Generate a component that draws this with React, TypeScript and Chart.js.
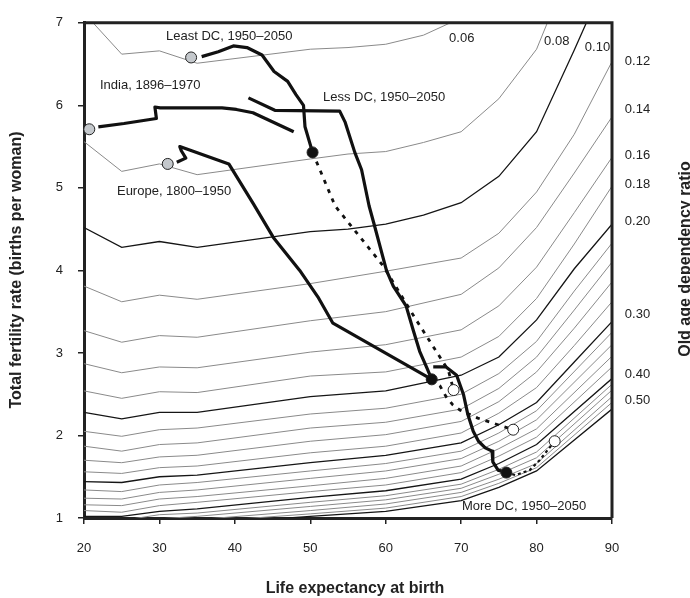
import React, { useEffect, useRef } from 'react';
import { Chart, registerables } from 'chart.js';

Chart.register(...registerables);

const FONT = '"Liberation Sans", Arial, Helvetica, sans-serif';
const n = null;

// Life expectancy values at which each old-age dependency ratio contour is tabulated
const knotAges = [20, 25, 30, 35, 50, 55, 60, 65, 70, 75, 80, 85, 90];

// Total fertility rate on each contour (null = not tabulated, line spans across)
const odr06 = [7.12, 6.62, 6.66, 6.51, 6.68, 6.70, 6.74, 6.85, 7.06, n, n, n, n];
const odr08 = [5.56, 5.20, 5.29, 5.16, 5.35, 5.41, 5.44, 5.55, 5.68, 6.08, 6.68, 7.8, n];
const odr10 = [4.52, 4.28, 4.35, 4.28, 4.47, 4.50, 4.56, 4.67, 4.82, 5.14, 5.68, 6.67, 7.7];
const odr12 = [3.81, 3.62, 3.70, 3.65, 3.84, n, 3.99, n, 4.15, 4.45, 4.95, 5.65, 6.53];
const odr14 = [3.27, 3.13, 3.21, 3.19, 3.39, n, 3.50, n, 3.71, 4.03, 4.52, 5.18, 5.86];
const odr16 = [2.87, 2.76, 2.83, 2.82, 3.01, n, 3.10, n, 3.28, 3.57, 4.04, 4.70, 5.37];
const odr18 = [2.54, 2.45, 2.53, 2.52, 2.72, n, 2.77, n, 2.95, 3.20, 3.66, 4.32, 5.02];
const odr20 = [2.28, 2.20, 2.28, 2.28, 2.47, n, 2.54, n, 2.73, 2.95, 3.40, 4.02, 4.56];
const odr22 = [2.05, 1.99, 2.07, 2.09, 2.26, n, 2.33, n, 2.50, 2.75, 3.14, 3.75, 4.33];
const odr24 = [1.87, 1.81, 1.89, 1.91, 2.09, n, 2.16, n, 2.32, 2.57, 2.95, 3.52, 4.10];
const odr26 = [1.70, 1.67, 1.74, 1.76, 1.93, n, 2.01, n, 2.17, 2.41, 2.77, 3.30, 3.86];
const odr28 = [1.56, 1.54, 1.61, 1.63, 1.79, n, 1.87, n, 2.03, 2.27, 2.58, 3.09, 3.62];
const odr30 = [1.44, 1.43, 1.50, 1.52, 1.67, n, 1.76, n, 1.91, 2.13, 2.40, 2.89, 3.38];
const odr32 = [1.34, 1.32, 1.40, 1.43, 1.57, n, 1.66, n, 1.81, 2.03, 2.30, n, 3.25];
const odr34 = [1.24, 1.23, 1.31, 1.34, 1.48, n, 1.57, n, 1.72, 1.93, 2.19, n, 3.10];
const odr36 = [1.16, 1.15, 1.23, 1.26, 1.39, n, 1.48, n, 1.63, 1.84, 2.08, n, 2.96];
const odr38 = [1.09, 1.07, 1.15, 1.19, 1.32, n, 1.40, n, 1.55, 1.75, 1.98, n, 2.83];
const odr40 = [1.02, 1.02, 1.08, 1.11, 1.25, n, 1.33, n, 1.47, 1.66, 1.89, n, 2.69];
const odr42 = [0.96, 0.97, 1.04, 1.06, 1.19, n, 1.27, n, 1.41, 1.59, 1.80, n, 2.62];
const odr44 = [0.92, 0.93, 0.99, 1.02, 1.14, n, 1.22, n, 1.36, 1.53, 1.73, n, 2.55];
const odr46 = [0.88, 0.89, 0.95, 0.98, 1.09, n, 1.17, n, 1.31, 1.47, 1.66, n, 2.47];
const odr48 = [0.85, 0.86, 0.92, 0.95, 1.05, n, 1.12, n, 1.26, 1.42, 1.61, n, 2.40];
const odr50 = [0.82, 0.83, 0.89, 0.92, 1.02, n, 1.08, n, 1.21, 1.37, 1.57, n, 2.32];

const contourLevels = [0.06, 0.08, 0.1, 0.12, 0.14, 0.16, 0.18, 0.2, 0.22, 0.24, 0.26, 0.28,
  0.3, 0.32, 0.34, 0.36, 0.38, 0.4, 0.42, 0.44, 0.46, 0.48, 0.5];
const contourTfr = [odr06, odr08, odr10, odr12, odr14, odr16, odr18, odr20, odr22, odr24, odr26,
  odr28, odr30, odr32, odr34, odr36, odr38, odr40, odr42, odr44, odr46, odr48, odr50];
const majorLevels = [0.1, 0.2, 0.3, 0.4, 0.5];

// Observed trajectories (life expectancy, TFR)
const leastDcAge = [35.6, 37.8, 39.8, 41.6, 43.6, 45.2, 47.0, 48.1, 49.1, 49.3, 50.3];
const leastDcTfr = [6.59, 6.65, 6.72, 6.70, 6.61, 6.41, 6.29, 6.13, 6.00, 5.74, 5.43];
const lessDcAge = [41.8, 45.3, 53.9, 54.6, 55.9, 56.8, 57.8, 58.4, 60.1, 61.0, 62.7, 63.7, 64.5, 65.4, 66.1];
const lessDcTfr = [6.09, 5.94, 5.93, 5.80, 5.43, 5.22, 4.78, 4.58, 4.00, 3.81, 3.57, 3.26, 3.02, 2.83, 2.68];
const moreDcAge = [66.3, 68.0, 69.4, 70.3, 70.9, 71.6, 72.3, 73.2, 74.1, 74.2, 74.9, 76.0];
const moreDcTfr = [2.83, 2.83, 2.73, 2.50, 2.25, 2.05, 1.93, 1.85, 1.81, 1.68, 1.58, 1.55];
const europeAge = [32.3, 33.5, 32.9, 32.7, 39.2, 42.5, 45.1, 48.6, 51.0, 53.0, 66.1];
const europeTfr = [5.31, 5.36, 5.45, 5.50, 5.29, 4.80, 4.40, 4.00, 3.68, 3.36, 2.68];
const indiaAge = [21.9, 25.3, 29.6, 29.4, 30.1, 38.3, 40.2, 42.4, 47.8];
const indiaTfr = [5.74, 5.78, 5.84, 5.98, 5.97, 5.97, 5.95, 5.91, 5.68];

// Projections 2000-2050
const leastProjAge = [50.3, 53.3, 59.7, 63.9, 68.3, 69.0];
const leastProjTfr = [5.43, 4.78, 4.05, 3.42, 2.79, 2.55];
const lessProjAge = [66.1, 67.2, 68.0, 68.9, 69.8, 72.2, 74.2, 76.9];
const lessProjTfr = [2.68, 2.60, 2.47, 2.37, 2.31, 2.21, 2.15, 2.07];
const moreProjAge = [76.0, 77.2, 79.1, 80.4, 82.4];
const moreProjTfr = [1.55, 1.52, 1.58, 1.70, 1.93];

// Markers: starting points, year 2000, year 2050
const startAge = [34.2, 20.7, 31.1];
const startTfr = [6.58, 5.71, 5.29];
const midAge = [50.3, 66.1, 76.0];
const midTfr = [5.43, 2.68, 1.55];
const endAge = [69.0, 76.9, 82.4];
const endTfr = [2.55, 2.07, 1.93];

// Text annotations
const seriesLabels = ['Least DC, 1950–2050', 'India, 1896–1970', 'Europe, 1800–1950', 'Less DC, 1950–2050', 'More DC, 1950–2050'];
const seriesLabelAge = [30.87, 22.12, 24.37, 51.69, 70.11];
const seriesLabelTfr = [6.83, 6.24, 4.96, 6.10, 1.14];
const topRatioLabels = ['0.06', '0.08', '0.10'];
const topRatioAge = [68.4, 81.0, 86.4];
const topRatioTfr = [6.81, 6.77, 6.70];
const sideRatioLabels = ['0.12', '0.14', '0.16', '0.18', '0.20', '0.30', '0.40', '0.50'];
const sideRatioTfr = [6.53, 5.95, 5.39, 5.04, 4.59, 3.47, 2.74, 2.42];
const sideLabelAge = 91.7;

const pts = (xs: number[], ys: (number | null)[]) => xs.map((x, i) => ({ x, y: ys[i] }));

const annotate = {
  id: 'annotate',
  afterDatasetsDraw(chart: any) {
    const { ctx, chartArea: a, scales } = chart;
    const sx = scales.x, sy = scales.y;
    ctx.save();
    // top and right frame
    ctx.strokeStyle = '#222';
    ctx.lineWidth = 3;
    ctx.beginPath();
    ctx.moveTo(a.left, a.top);
    ctx.lineTo(a.right, a.top);
    ctx.lineTo(a.right, a.bottom);
    ctx.stroke();

    ctx.fillStyle = '#222';
    ctx.font = `13px ${FONT}`;
    ctx.textAlign = 'left';
    ctx.textBaseline = 'middle';
    seriesLabels.forEach((t, i) => {
      ctx.fillText(t, sx.getPixelForValue(seriesLabelAge[i]), sy.getPixelForValue(seriesLabelTfr[i]));
    });
    topRatioLabels.forEach((t, i) => {
      ctx.fillText(t, sx.getPixelForValue(topRatioAge[i]), sy.getPixelForValue(topRatioTfr[i]));
    });
    sideRatioLabels.forEach((t, i) => {
      ctx.fillText(t, sx.getPixelForValue(sideLabelAge), sy.getPixelForValue(sideRatioTfr[i]));
    });

    // axis titles
    ctx.font = `bold 16px ${FONT}`;
    ctx.textAlign = 'center';
    ctx.textBaseline = 'alphabetic';
    ctx.fillText('Life expectancy at birth', 355, 593);
    ctx.save();
    ctx.translate(21, 270);
    ctx.rotate(-Math.PI / 2);
    ctx.fillText('Total fertility rate (births per woman)', 0, 0);
    ctx.restore();
    ctx.save();
    ctx.translate(690, 259);
    ctx.rotate(-Math.PI / 2);
    ctx.fillText('Old age dependency ratio', 0, 0);
    ctx.restore();
    ctx.restore();
  },
};

export default function App() {
  const ref = useRef<HTMLCanvasElement>(null);

  useEffect(() => {
    const canvas = ref.current;
    if (!canvas) return;
    const datasets: any[] = [];

    const marker = (xs: number[], ys: number[], fill: string) => ({
      data: pts(xs, ys),
      showLine: false,
      pointRadius: 5.5,
      pointBackgroundColor: fill,
      pointBorderColor: '#222',
      pointBorderWidth: 1,
      clip: false,
      order: 0,
    });
    datasets.push(marker(startAge, startTfr, '#c4c8cc'));
    datasets.push(marker(midAge, midTfr, '#111'));
    datasets.push(marker(endAge, endTfr, '#ffffff'));

    const path = (xs: number[], ys: number[], dash: number[], width: number) => ({
      data: pts(xs, ys),
      showLine: true,
      pointRadius: 0,
      borderColor: '#111',
      borderWidth: width,
      borderDash: dash,
      borderJoinStyle: 'round',
      borderCapStyle: 'butt',
      tension: 0,
      clip: false,
      order: 1,
    });
    datasets.push(path(leastDcAge, leastDcTfr, [], 3.2));
    datasets.push(path(lessDcAge, lessDcTfr, [], 3.2));
    datasets.push(path(moreDcAge, moreDcTfr, [], 3.2));
    datasets.push(path(europeAge, europeTfr, [], 3.2));
    datasets.push(path(indiaAge, indiaTfr, [], 3.2));
    datasets.push(path(leastProjAge, leastProjTfr, [4, 6], 2.8));
    datasets.push(path(lessProjAge, lessProjTfr, [4, 6], 2.8));
    datasets.push(path(moreProjAge, moreProjTfr, [3, 3], 2.2));

    contourLevels.forEach((lv, i) => {
      const major = majorLevels.some((m) => Math.abs(m - lv) < 1e-9);
      datasets.push({
        data: pts(knotAges, contourTfr[i]),
        showLine: true,
        spanGaps: true,
        pointRadius: 0,
        borderColor: major ? '#151515' : '#8a8a8a',
        borderWidth: major ? 1.3 : 1,
        tension: 0,
        clip: 0,
        order: 2,
      });
    });

    const axisFont = { family: FONT, size: 13 };
    const grid = {
      drawOnChartArea: false,
      drawTicks: true,
      tickLength: 6,
      color: '#222',
      lineWidth: 1.5,
    };

    const chart = new Chart(canvas, {
      type: 'scatter',
      data: { datasets },
      options: {
        responsive: false,
        animation: false,
        devicePixelRatio: 1,
        layout: { padding: { top: 10, right: 78, left: 0, bottom: 0 } },
        plugins: { legend: { display: false }, tooltip: { enabled: false } },
        scales: {
          x: {
            type: 'linear',
            min: 20,
            max: 90,
            afterFit: (s: any) => { s.height = 80; },
            ticks: { stepSize: 10, font: axisFont, color: '#222', padding: 17 },
            grid,
            border: { display: true, color: '#222', width: 3 },
          },
          y: {
            type: 'linear',
            min: 1,
            max: 7,
            afterFit: (s: any) => { s.width = 84; },
            ticks: { stepSize: 1, font: axisFont, color: '#222', padding: 15 },
            grid,
            border: { display: true, color: '#222', width: 3 },
          },
        },
      } as any,
      plugins: [annotate],
    });
    return () => chart.destroy();
  }, []);

  return (
    <div style={{ position: 'fixed', left: 0, top: 0, width: 690, height: 598, background: '#fff' }}>
      <canvas ref={ref} width={690} height={598} style={{ display: 'block', width: 690, height: 598 }} />
    </div>
  );
}
